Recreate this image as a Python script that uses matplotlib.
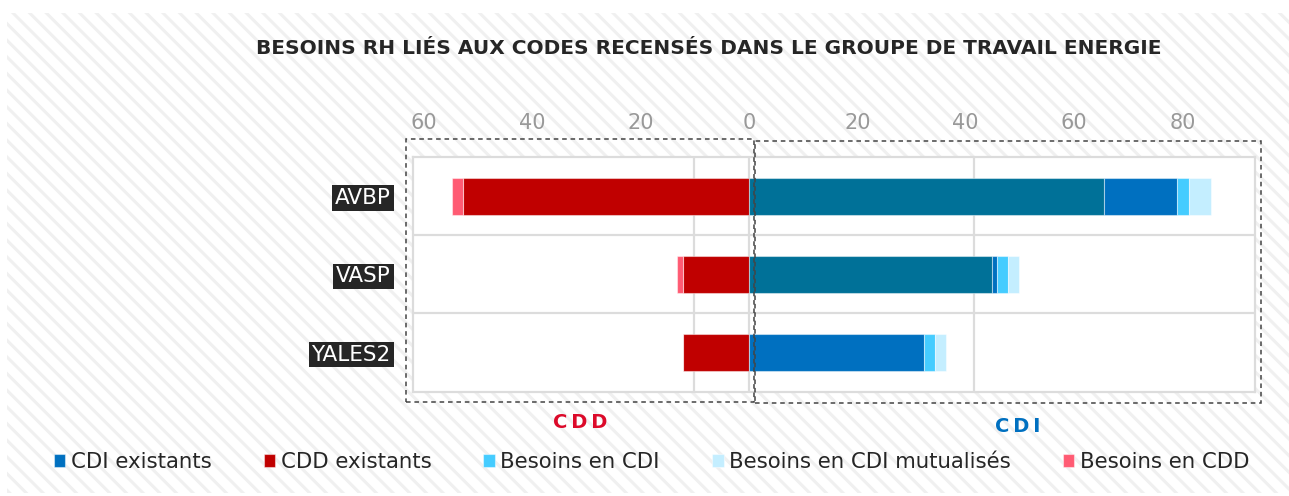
import matplotlib.pyplot as plt
from matplotlib.patches import Rectangle

W, H = 1289, 496
DPI = 100

# Données
categories = ["AVBP", "VASP", "YALES2"]
cdd_existants = [52.8, 12.2, 12.2]
besoins_cdd = [2.0, 1.1, 0.0]
cdi_base = [65.5, 44.8, 0.0]          # segment bleu-vert (hors légende)
cdi_existants = [13.5, 1.0, 32.3]
besoins_cdi = [2.2, 2.1, 2.1]
besoins_cdi_mut = [4.1, 2.0, 2.0]
xticks = [-60, -40, -20, 0, 20, 40, 60, 80]

C_TEAL = "#007198"
C_CDI = "#0070C0"
C_CDD = "#C00000"
C_BCDI = "#45CCFF"
C_MUT = "#C4EEFF"
C_BCDD = "#FF5B73"
TXT = "#262626"

plt.rcParams['font.family'] = ['DejaVu Sans']
plt.rcParams['hatch.linewidth'] = 2.2


def px(x, y):
    """pixels -> fraction de figure"""
    return x / W, 1 - y / H


fig = plt.figure(figsize=(W / DPI, H / DPI), dpi=DPI)
fig.patch.set_facecolor("white")

# fond hachuré
x0, y0 = px(7, 493)
fig.patches.append(Rectangle((x0, y0), 1 - x0, (493 - 13) / H, transform=fig.transFigure,
                             facecolor="white", edgecolor="#F0F0F0", hatch="\\\\", lw=0, zorder=-10))

l, b = px(413, 391.7)
r, t = px(1255, 157)
ax = fig.add_axes([l, b, r - l, t - b])
ax.set_facecolor("white")

y = list(range(len(categories)))
h = 0.47
ec = (1, 1, 1, 0.45)
lw = 0.8

# côté CDD (négatif)
neg_cdd = [-v for v in cdd_existants]
ax.barh(y, neg_cdd, h, color=C_CDD, edgecolor=ec, lw=lw, label="CDD existants", zorder=3)
ax.barh(y, [-v for v in besoins_cdd], h, left=neg_cdd, color=C_BCDD, edgecolor=ec, lw=lw,
        label="Besoins en CDD", zorder=3)

# côté CDI (positif)
left = [0.0] * 3
ax.barh(y, cdi_base, h, left=left, color=C_TEAL, edgecolor=ec, lw=lw, label="_base", zorder=3)
left = [a + c for a, c in zip(left, cdi_base)]
ax.barh(y, cdi_existants, h, left=left, color=C_CDI, edgecolor=ec, lw=lw, label="CDI existants", zorder=3)
left = [a + c for a, c in zip(left, cdi_existants)]
ax.barh(y, besoins_cdi, h, left=left, color=C_BCDI, edgecolor=ec, lw=lw, label="Besoins en CDI", zorder=3)
left = [a + c for a, c in zip(left, besoins_cdi)]
ax.barh(y, besoins_cdi_mut, h, left=left, color=C_MUT, edgecolor=ec, lw=lw,
        label="Besoins en CDI mutualisés", zorder=3)

xmin, xmax = -62.0, 93.4
ax.set_xlim(xmin, xmax)
ax.set_ylim(2.5, -0.5)

# grille
grid = dict(color="#DCDCDC", lw=1.6, zorder=1)
for f in (1 / 3, 2 / 3):
    ax.axvline(xmin + f * (xmax - xmin), **grid)
ax.axvline(0, **grid)
for yy in (0.5, 1.5):
    ax.axhline(yy, **grid)
for s in ax.spines.values():
    s.set_color("#DCDCDC")
    s.set_linewidth(1.6)

ax.xaxis.tick_top()
ax.set_xticks(xticks)
ax.set_xticklabels([str(abs(v)) for v in xticks], color="#999999", fontsize=15)
ax.tick_params(axis="x", length=0, pad=17)
ax.set_yticks(y)
ax.set_yticklabels(categories, color="white", fontsize=15.5)
ax.tick_params(axis="y", length=0, pad=16)
for lbl in ax.get_yticklabels():
    lbl.set_bbox(dict(facecolor=TXT, edgecolor="none", pad=2))

# cadres pointillés
def box(x1, y1, x2, y2):
    a, bb = px(x1, y2)
    c, d = px(x2, y1)
    fig.patches.append(Rectangle((a, bb), c - a, d - bb, transform=fig.transFigure, fill=False,
                                 edgecolor="#444444", lw=1.1, linestyle=(0, (3, 2.5)), zorder=5))

box(405.7, 139.3, 754, 402)
box(755, 140.7, 1260.7, 403.3)

fig.text(*px(580, 422), "C\u2009D\u2009D", color="#DC0A2A", fontsize=14, fontweight="bold", ha="center", va="center")
fig.text(*px(1018, 426), "C\u2009D\u2009I", color=C_CDI, fontsize=14, fontweight="bold", ha="center", va="center")

fig.text(*px(708.5, 48), "BESOINS RH LIÉS AUX CODES RECENSÉS DANS LE GROUPE DE TRAVAIL ENERGIE",
         color=TXT, fontsize=14.5, fontweight="bold", ha="center", va="center")

handles, labels = ax.get_legend_handles_labels()
order = ["CDI existants", "CDD existants", "Besoins en CDI", "Besoins en CDI mutualisés", "Besoins en CDD"]
hd = dict(zip(labels, handles))
fig.legend([hd[k] for k in order], order, loc="center", bbox_to_anchor=px(651.5, 462), ncol=5,
           frameon=False, fontsize=15.3, labelcolor=TXT, handlelength=0.55, handleheight=0.55,
           handletextpad=0.25, columnspacing=2.45, borderaxespad=0)

fig.savefig("out.png", dpi=DPI)
